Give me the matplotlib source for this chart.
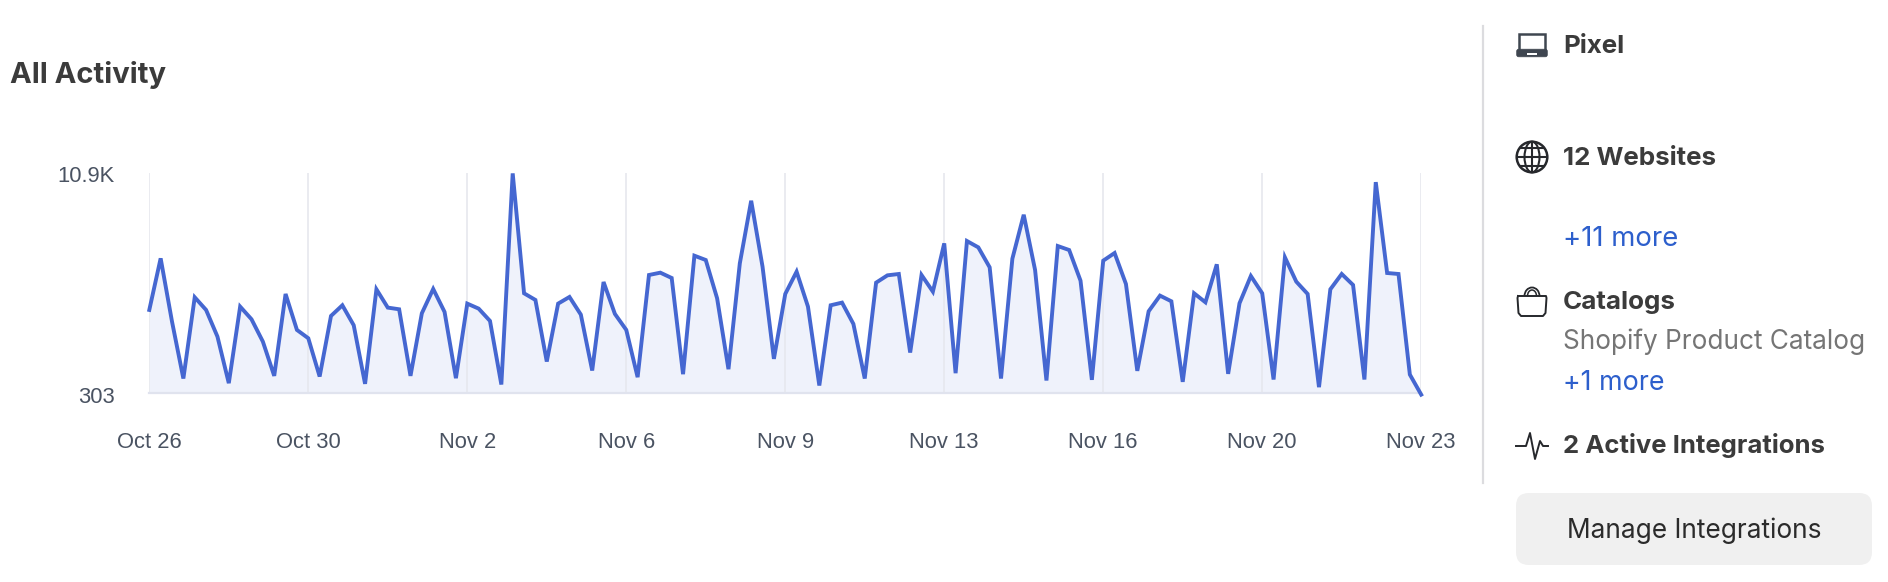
import matplotlib
matplotlib.use("Agg")
import matplotlib.pyplot as plt
from matplotlib.patches import Circle, Ellipse, FancyBboxPatch, Rectangle, Arc
from matplotlib.transforms import ScaledTranslation

W, H = 1888, 582
DPI = 100

title = "All Activity"
tick_positions = [0, 14, 28, 42, 56, 70, 84, 98, 112]
tick_labels = ["Oct 26", "Oct 30", "Nov 2", "Nov 6", "Nov 9", "Nov 13", "Nov 16", "Nov 20", "Nov 23"]
y_ticks = [303, 10900]
y_labels = ["303", "10.9K"]
activity = [
    4296, 6791, 3732, 979, 4908, 4296, 3008, 754, 4457, 3845, 2766, 1108, 5069, 3330,
    2927, 1076, 4006, 4521, 3555, 722, 5294, 4409, 4328, 1108, 4135, 5310, 4199, 995,
    4602, 4360, 3765, 689, 10900, 5101, 4779, 1800, 4602, 4924, 4070, 1366, 5648, 4103,
    3330, 1044, 5986, 6099, 5841, 1189, 6920, 6711, 4859, 1430, 6550, 9577, 6389, 1929,
    5069, 6147, 4457, 641, 4521, 4650, 3620, 979, 5616, 5970, 6035, 2235, 5986, 5181,
    7516, 1237, 7629, 7323, 6357, 979, 6775, 8900, 6228, 883, 7387, 7194, 5713, 915,
    6679, 7049, 5552, 1350, 4231, 4988, 4714, 818, 5101, 4666, 6502, 1205, 4618, 5938,
    5101, 931, 6840, 5664, 5069, 561, 5294, 6035, 5503, 931, 10478, 6083, 6035, 1172,
    200,
]
x_index = list(range(len(activity)))

fig = plt.figure(figsize=(W / DPI, H / DPI), dpi=DPI, facecolor="white")

# pixel overlay for the side panel
ov = fig.add_axes([0, 0, 1, 1], zorder=0)
ov.set_xlim(0, W)
ov.set_ylim(H, 0)
ov.axis("off")

L, R, T, B = 149.3, 1421.2, 173.4, 392.5
ax = fig.add_axes([L / W, 1 - B / H, (R - L) / W, (B - T) / H], zorder=1)
ax.patch.set_alpha(0)
ax.set_xlim(0, 112)
ax.set_ylim(303, 10900)
ax.fill_between(x_index, activity, 303, color="#eff2fb", lw=0, zorder=1)
ax.plot(x_index, activity, color="#4567d1", lw=2.8, solid_joinstyle="miter", clip_on=False, zorder=3)
ax.set_xticks(tick_positions)
ax.set_xticklabels(tick_labels, fontfamily="Liberation Sans", fontsize=15.8, color="#4a5362")
ax.set_yticks(y_ticks)
ax.set_yticklabels(y_labels, fontfamily="Liberation Sans", fontsize=15.8, color="#4a5362")
ax.tick_params(axis="x", length=0, pad=28.5)
ax.tick_params(axis="y", length=0, pad=25)
for lab, dy in zip(ax.get_yticklabels(), [-2.4, -1.0]):
    lab.set_transform(lab.get_transform() + ScaledTranslation(0, dy / DPI, fig.dpi_scale_trans))
ax.grid(axis="x", color="#e6e8ee", lw=1.2, zorder=2)
ax.grid(axis="y", visible=False)
for name, sp in ax.spines.items():
    sp.set_visible(name == "bottom")
ax.spines["bottom"].set_color("#e0e3ee")
ax.spines["bottom"].set_linewidth(1.6)

SANS = "Inter"
BOLD = "#3b3b3b"
ov.text(10, 75, title, fontfamily=SANS, fontweight="bold", fontsize=21, color=BOLD, va="center")

ov.plot([1482.7, 1482.7], [26, 483], color="#dcdcdf", lw=1.6)

TX = 1563
SZ = 18.7
ov.text(TX, 46.5, "Pixel", fontfamily=SANS, fontweight="bold", fontsize=SZ, color=BOLD, va="center")
ov.text(TX, 158.5, "12 Websites", fontfamily=SANS, fontweight="bold", fontsize=SZ, color=BOLD, va="center")
ov.text(TX, 238.5, "+11 more", fontfamily=SANS, fontsize=19.8, color="#2d5fcc", va="center")
ov.text(TX, 302, "Catalogs", fontfamily=SANS, fontweight="bold", fontsize=SZ, color=BOLD, va="center")
ov.text(TX, 342, "Shopify Product Catalog", fontfamily=SANS, fontsize=18.85, color="#757575", va="center")
ov.text(TX, 382.5, "+1 more", fontfamily=SANS, fontsize=19.3, color="#2d5fcc", va="center")
ov.text(TX, 445.5, "2 Active Integrations", fontfamily=SANS, fontweight="bold", fontsize=18.5, color=BOLD, va="center")

ov.add_patch(FancyBboxPatch((1526, 503), 336, 52, boxstyle="round,pad=10,rounding_size=13",
                            fc="#f0f0f0", ec="none"))
ov.text(1694, 531, "Manage Integrations", fontfamily=SANS, fontsize=18.9, color="#2b2b2b", va="center", ha="center")

ICON = "#3f4650"
# laptop
ov.add_patch(Rectangle((1519, 33.5), 26, 17, fc="none", ec=ICON, lw=1.8))
ov.add_patch(FancyBboxPatch((1517.5, 50), 29, 6, boxstyle="round,pad=0.8,rounding_size=2", fc=ICON, ec=ICON, lw=0.5))
ov.add_patch(Rectangle((1527, 53), 10, 1.8, fc="white", ec="none"))
# globe
ICON2 = "#26282c"
ov.add_patch(Circle((1532, 157), 15.3, fc="none", ec=ICON2, lw=1.8))
ov.add_patch(Ellipse((1532, 157), 15, 30.6, fc="none", ec=ICON2, lw=1.5))
ov.plot([1532, 1532], [141.7, 172.3], color=ICON2, lw=1.5)
ov.plot([1517, 1547], [157, 157], color=ICON2, lw=1.5)
ov.plot([1520, 1544], [148, 148], color=ICON2, lw=1.5)
ov.plot([1520, 1544], [166, 166], color=ICON2, lw=1.5)
# bag
ov.plot([1518, 1546, 1546.5, 1545.5, 1543, 1521, 1518.5, 1517.5, 1518],
        [296, 296, 298, 313, 316, 316, 313, 298, 296], color=ICON2, lw=1.4)
ov.add_patch(Arc((1532, 296), 15, 17, theta1=180, theta2=360, ec=ICON2, lw=1.3))
ov.add_patch(Arc((1532, 296), 9, 12, theta1=180, theta2=360, ec=ICON2, lw=1.1))
# pulse
ov.plot([1516, 1526, 1530, 1535, 1540, 1543, 1548], [446, 446, 433, 459, 441, 446, 446], color=ICON2, lw=1.4)

fig.savefig("out.png", dpi=DPI, facecolor="white")
